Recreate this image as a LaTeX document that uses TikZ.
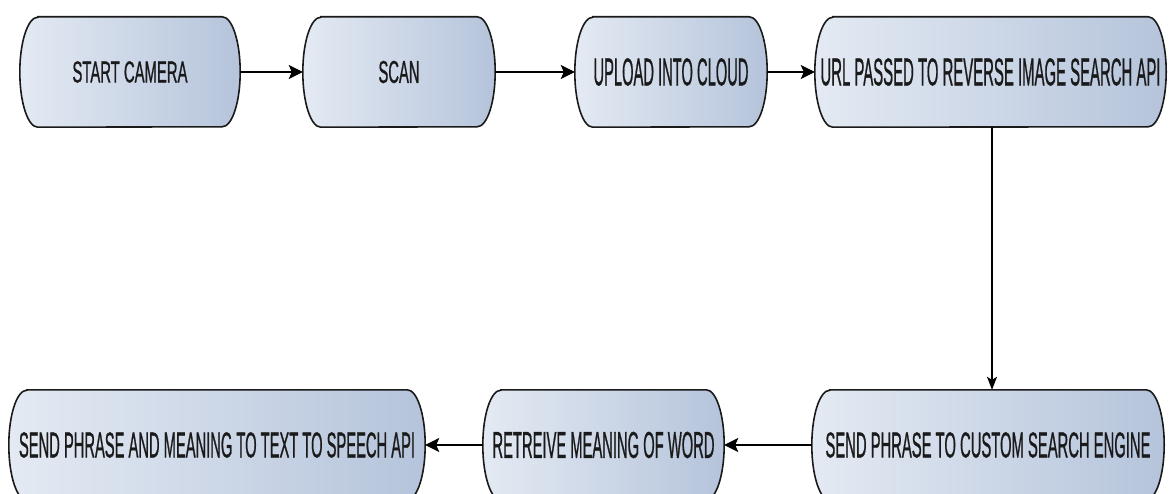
\documentclass[tikz,border=0pt]{standalone}
\usepackage{fontspec}
\setsansfont{Liberation Sans}[FakeBold=1.2]
\usepackage{graphicx}
\usetikzlibrary{arrows.meta,backgrounds}
\definecolor{boxleft}{HTML}{E4EAF3}
\definecolor{boxright}{HTML}{B5C4DB}
\definecolor{ink}{HTML}{1A1A1A}
\newcommand\fitt[3]{\resizebox{#1}{#2}{\sffamily #3}}
\newcommand\termshape[1]{%
  \draw[termline, left color=boxleft, right color=boxright]
    ([xshift=18pt]#1.north west) -- ([xshift=-18pt]#1.north east)
    arc[start angle=90, end angle=-90, x radius=18pt, y radius=55pt]
    -- ([xshift=18pt]#1.south west)
    arc[start angle=270, end angle=90, x radius=18pt, y radius=55pt]
    -- cycle;}
\tikzset{
  termbox/.style={rectangle, inner sep=0pt, minimum height=110pt, text=ink},
  termline/.style={draw=ink, line width=1.6pt},
  flowarrow/.style={draw=black, line width=2.2pt, -{Stealth[length=14pt,width=14pt,inset=3pt]}},
  downarrow/.style={draw=black, line width=1.1pt, -{Stealth[length=13pt,width=10pt,inset=3pt]}}
}
\begin{document}
\begin{tikzpicture}[x=1pt,y=1pt]
\useasboundingbox (0,0) rectangle (1169,-494);
\clip (0,0) rectangle (1169,-494);
% top row
\node[termbox, minimum width=220pt] (n1) at (130,-72) {\fitt{115pt}{21pt}{START CAMERA}};
\node[termbox, minimum width=192pt] (n2) at (399,-72) {\fitt{41pt}{22pt}{SCAN}};
\node[termbox, minimum width=192pt] (n3) at (671,-72) {\fitt{155pt}{27pt}{UPLOAD INTO CLOUD}};
\node[termbox, minimum width=351pt] (n4) at (990.5,-72) {\fitt{340pt}{27pt}{URL PASSED TO REVERSE IMAGE SEARCH API}};
% bottom row
\node[termbox, minimum width=352pt] (n5) at (988,-445) {\fitt{325pt}{25pt}{SEND PHRASE TO CUSTOM SEARCH ENGINE}};
\node[termbox, minimum width=241pt] (n6) at (603.5,-445) {\fitt{222pt}{26pt}{RETREIVE MEANING OF WORD}};
\node[termbox, minimum width=416pt] (n7) at (217,-445) {\fitt{396pt}{25pt}{SEND PHRASE AND MEANING TO TEXT TO SPEECH API}};
\begin{pgfonlayer}{background}
\termshape{n1}\termshape{n2}\termshape{n3}\termshape{n4}
\termshape{n5}\termshape{n6}\termshape{n7}
\end{pgfonlayer}
% connectors
\draw[flowarrow] (n1.east) -- (n2.west);
\draw[flowarrow] (n2.east) -- (n3.west);
\draw[flowarrow] (n3.east) -- (n4.west);
\draw[downarrow] ([xshift=1.5pt]n4.south) -- ([xshift=1.5pt]n4.south |- n5.north);
\draw[flowarrow] (n5.west) -- (n6.east);
\draw[flowarrow] (n6.west) -- (n7.east);
\end{tikzpicture}
\end{document}
